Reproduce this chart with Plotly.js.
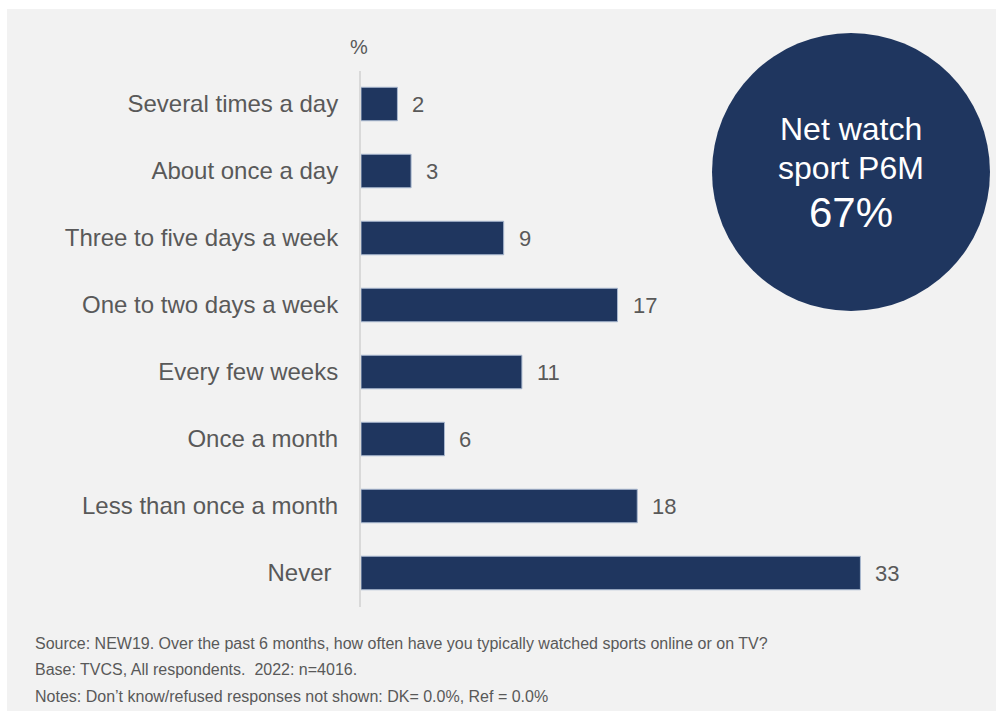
<!DOCTYPE html>
<html>
<head>
<meta charset="utf-8">
<script src="https://cdn.plot.ly/plotly-3.0.1.min.js"></script>
<style>html,body{margin:0;padding:0;background:#fff;}#chart{width:996px;height:711px;}</style>
</head>
<body>
<div id="chart"></div>
<script>
const categories = ["Several times a day","About once a day","Three to five days a week","One to two days a week","Every few weeks","Once a month","Less than once a month","Never\u00a0"];
const values = [2.4, 3.3, 9.4, 16.9, 10.6, 5.5, 18.2, 32.9];
const circleLines = ["Net watch","sport P6M","67%"];
const footnotes = [
  "Source: NEW19. Over the past 6 months, how often have you typically watched sports online or on TV?",
  "Base: TVCS, All respondents.\u00a0 2022: n=4016.",
  "Notes: Don\u2019t know/refused responses not shown: DK= 0.0%, Ref = 0.0%"
];
const unitLabel = "%";

const W = 996, H = 711;
const FONT = '"Liberation Sans", Arial, sans-serif';
const px = x => x / W;
const py = y => 1 - y / H;

const annotations = [];
values.forEach((v, i) => {
  annotations.push({x: v, y: categories[i], xref: 'x', yref: 'y', text: String(Math.round(v)),
    showarrow: false, xanchor: 'left', xshift: 13, font: {family: FONT, size: 22, color: '#595959'}});
});
annotations.push({x: px(359), y: py(47), xref: 'paper', yref: 'paper', text: unitLabel, showarrow: false,
  xanchor: 'center', yanchor: 'middle', font: {family: FONT, size: 20, color: '#595959'}});
const cy = [129, 168, 212];
const cs = [32, 32, 42];
circleLines.forEach((t, i) => {
  annotations.push({x: px(851), y: py(cy[i]), xref: 'paper', yref: 'paper', text: t, showarrow: false,
    xanchor: 'center', yanchor: 'middle', font: {family: FONT, size: cs[i], color: '#ffffff'}});
});
const fy = [643, 669, 696];
footnotes.forEach((t, i) => {
  annotations.push({x: px(33), y: py(fy[i]), xref: 'paper', yref: 'paper', text: t, showarrow: false,
    xanchor: 'left', yanchor: 'middle', font: {family: FONT, size: 16, color: '#595959'}});
});

const x0 = 361, pxPerUnit = 15.18, xmax = 40;
const layout = {
  width: W, height: H,
  margin: {l: 0, r: 0, t: 0, b: 0, pad: 0},
  paper_bgcolor: '#ffffff',
  plot_bgcolor: 'rgba(0,0,0,0)',
  showlegend: false,
  bargap: 0.5,
  xaxis: {domain: [px(x0), px(x0 + pxPerUnit * xmax)], range: [0, xmax], visible: false, showgrid: false, zeroline: false, fixedrange: true},
  yaxis: {domain: [py(606.5), py(70.5)], autorange: 'reversed', type: 'category', showline: true, linecolor: '#d9d9d9', linewidth: 2,
    showgrid: false, zeroline: false, ticks: '', ticklabelstandoff: 16, automargin: false,
    tickfont: {family: FONT, size: 24, color: '#595959'}},
  shapes: [
    {type: 'rect', xref: 'paper', yref: 'paper', x0: px(7), x1: 1, y0: 0, y1: py(9), fillcolor: '#f2f2f2', line: {width: 0}, layer: 'below'},
    {type: 'circle', xref: 'paper', yref: 'paper', x0: px(712), x1: px(990), y0: py(311), y1: py(33), fillcolor: '#1f365f', line: {width: 0}, layer: 'above'}
  ],
  annotations: annotations
};

const data = [{
  type: 'bar', orientation: 'h', x: values, y: categories,
  marker: {color: '#1f365f', line: {color: '#a9b8cf', width: 1}},
  hoverinfo: 'none'
}];

Plotly.newPlot('chart', data, layout, {staticPlot: true, displayModeBar: false});
</script>
</body>
</html>
